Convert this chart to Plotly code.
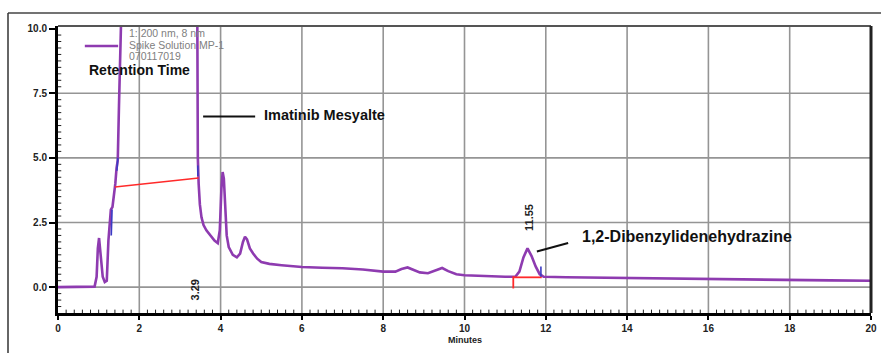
import plotly.graph_objects as go

# ---- data ----
time_min = [0.0, 0.5, 0.9, 0.95, 0.98, 1.01, 1.05, 1.1, 1.15, 1.2, 1.24, 1.27, 1.30, 1.34,
            1.38, 1.41, 1.44, 1.47, 1.50, 1.53, 1.58, 2.0, 2.6, 3.29, 3.38, 3.42, 3.44,
            3.46, 3.49, 3.53, 3.58, 3.65, 3.75, 3.85, 3.93, 3.98, 4.02, 4.05, 4.08, 4.11,
            4.15, 4.2, 4.3, 4.4, 4.48, 4.55, 4.6, 4.65, 4.72, 4.8, 4.9, 5.0, 5.2, 5.5,
            6.0, 6.5, 7.0, 7.5, 8.0, 8.3, 8.45, 8.6, 8.75, 8.9, 9.1, 9.25, 9.45, 9.6,
            9.8, 10.0, 10.5, 11.0, 11.25, 11.35, 11.45, 11.55, 11.65, 11.75, 11.85,
            11.95, 12.5, 13.0, 14.0, 15.0, 16.0, 17.0, 18.0, 19.0, 20.0]
absorbance = [0.0, 0.0, 0.02, 0.4, 1.5, 1.9, 1.3, 0.4, 0.2, 0.25, 1.8, 2.5, 3.0, 3.1,
              3.6, 4.0, 4.6, 4.9, 7.0, 12.0, 40.0, 60.0, 80.0, 120.0, 30.0, 9.0, 5.0,
              4.0, 3.2, 2.7, 2.4, 2.2, 2.0, 1.8, 1.7, 2.2, 3.8, 4.45, 4.2, 3.0,
              2.0, 1.55, 1.25, 1.15, 1.3, 1.75, 1.95, 1.85, 1.5, 1.3, 1.1, 0.97, 0.9, 0.85,
              0.78, 0.75, 0.73, 0.68, 0.6, 0.6, 0.7, 0.76, 0.68, 0.57, 0.54, 0.62, 0.74, 0.62,
              0.5, 0.46, 0.42, 0.4, 0.4, 0.6, 1.15, 1.5, 1.2, 0.8, 0.5,
              0.4, 0.38, 0.37, 0.34, 0.32, 0.3, 0.29, 0.27, 0.26, 0.25]

# integration baselines (red) and markers (blue)
baseline1_t = [1.40, 3.46]
baseline1_v = [3.87, 4.22]
baseline2_t = [11.2, 11.2, None, 11.2, 11.9]
baseline2_v = [-0.05, 0.42, None, 0.38, 0.38]
marker_t = [1.31, 1.33, None, 1.45, 1.47, None, 3.44, 3.44, None, 11.88, 11.88]
marker_v = [2.0, 3.0, None, 4.5, 5.0, None, 4.3, 4.7, None, 0.4, 0.8]

peak_rt = [3.29, 11.55]
peak_names = ["Imatinib Mesyalte", "1,2-Dibenzylidenehydrazine"]
legend_lines = ["1: 200 nm, 8 nm", "Spike Solution MP-1", "070117019"]
x_grid = [2, 4, 6, 8, 10, 12, 14, 16, 18]
y_grid = [0.0, 2.5, 5.0, 7.5]

X_RANGE = [0, 20]
Y_RANGE = [-1.0, 10.1]
PURPLE = "#8e3bb0"
FONT = "Liberation Sans"
GRID = "#959595"

# grid lines drawn as a background trace (built from the tick lists)
grid_x, grid_y = [], []
for gx in x_grid:
    grid_x += [gx, gx, None]
    grid_y += [Y_RANGE[0], Y_RANGE[1], None]
for gy in y_grid:
    grid_x += [X_RANGE[0], X_RANGE[1], None]
    grid_y += [gy, gy, None]

# minor tick marks along the axes
minor_x_pos = [k * 0.2 for k in range(1, 100) if k % 10 != 0]
minor_y_pos = [k * 0.25 for k in range(-3, 41) if k % 10 != 0]
tick_x, tick_y = [], []
for mx in minor_x_pos:
    tick_x += [mx, mx, None]
    tick_y += [Y_RANGE[0], Y_RANGE[0] + 0.13, None]
for my in minor_y_pos:
    tick_x += [X_RANGE[0], X_RANGE[0] + 0.08, None]
    tick_y += [my, my, None]

fig = go.Figure()
fig.add_trace(go.Scatter(x=grid_x, y=grid_y, mode="lines", hoverinfo="skip",
                         line=dict(color=GRID, width=1.6), showlegend=False))
fig.add_trace(go.Scatter(x=tick_x, y=tick_y, mode="lines", hoverinfo="skip",
                         line=dict(color="#222", width=1), showlegend=False))
fig.add_trace(go.Scatter(x=time_min, y=absorbance, mode="lines",
                         line=dict(color=PURPLE, width=2.6), showlegend=False))
fig.add_trace(go.Scatter(x=baseline1_t, y=baseline1_v, mode="lines",
                         line=dict(color="#ff2a2a", width=1.5), showlegend=False))
fig.add_trace(go.Scatter(x=baseline2_t, y=baseline2_v, mode="lines",
                         line=dict(color="#ff2a2a", width=1.8), showlegend=False))
fig.add_trace(go.Scatter(x=marker_t, y=marker_v, mode="lines",
                         line=dict(color="#3b3bc4", width=1.6), showlegend=False))

ann = []
ann.append(dict(x=peak_rt[0] + 0.08, y=-0.09, text="3.29", textangle=-90, showarrow=False,
                font=dict(family=FONT, size=11, color="#222", weight="bold")))
ann.append(dict(x=peak_rt[1] + 0.04, y=2.68, text="11.55", textangle=-90, showarrow=False,
                font=dict(family=FONT, size=11, color="#222", weight="bold")))
ann.append(dict(x=5.02, y=6.67, text=peak_names[0], xanchor="left", showarrow=False,
                font=dict(family=FONT, size=14.5, color="#111", weight="bold")))
ann.append(dict(x=12.84, y=1.95, text=peak_names[1], xanchor="left", showarrow=False,
                font=dict(family=FONT, size=16, color="#111", weight="bold")))
for i, t in enumerate(legend_lines):
    ann.append(dict(x=1.70, y=[9.82, 9.38, 8.93][i], text=t, xanchor="left", showarrow=False,
                    font=dict(family=FONT, size=10.5, color="#808080")))
ann.append(dict(x=0.71, y=8.4, text="Retention Time", xanchor="left", showarrow=False,
                font=dict(family=FONT, size=14, color="#111", weight="bold")))
ann.append(dict(x=10.0, y=-0.095, xref="x", yref="paper", text="Minutes", showarrow=False,
                yanchor="middle",
                font=dict(family=FONT, size=9, color="#222", weight="bold")))

shapes = [
    dict(type="line", xref="x", yref="y", x0=3.57, y0=6.6, x1=4.85, y1=6.6,
         line=dict(color="#111", width=2)),
    dict(type="line", xref="x", yref="y", x0=11.78, y0=1.38, x1=12.55, y1=1.71,
         line=dict(color="#111", width=2)),
    dict(type="line", xref="x", yref="y", x0=0.66, y0=9.33, x1=1.48, y1=9.33,
         line=dict(color=PURPLE, width=2.5)),
    dict(type="line", xref="paper", yref="paper", x0=0, y0=1, x1=1, y1=1,
         line=dict(color="#555", width=2)),
    dict(type="line", xref="paper", yref="paper", x0=1, y0=0, x1=1, y1=1,
         line=dict(color="#222", width=3)),
    dict(type="line", xref="paper", yref="paper", x0=-0.0615, y0=1.0453, x1=1.05, y1=1.0453,
         line=dict(color="#444", width=1.5)),
    dict(type="line", xref="paper", yref="paper", x0=-0.0615, y0=-0.2, x1=-0.0615, y1=1.0453,
         line=dict(color="#333", width=1.5)),
]

fig.update_layout(
    width=881, height=353,
    margin=dict(l=58, r=10, t=26, b=40, autoexpand=False),
    paper_bgcolor="white", plot_bgcolor="white",
    annotations=ann, shapes=shapes,
)
fig.update_xaxes(range=X_RANGE, tickmode="linear", tick0=0, dtick=2, ticklen=4,
                 showline=True, linecolor="black", linewidth=3, ticks="outside",
                 tickcolor="black", tickwidth=2, showgrid=False, zeroline=False,
                 automargin=False,
                 tickfont=dict(family=FONT, size=10, color="#222", weight="bold"))
fig.update_yaxes(range=Y_RANGE, tickmode="linear", tick0=0, dtick=2.5,
                 tickformat=".1f", ticklen=6,
                 showline=True, linecolor="black", linewidth=3, ticks="outside",
                 tickcolor="black", tickwidth=2, showgrid=False, zeroline=False,
                 automargin=False,
                 tickfont=dict(family=FONT, size=10, color="#222", weight="bold"))

fig.write_html("out.html", config={"displayModeBar": False},
               post_script="document.body.style.margin='0';")
